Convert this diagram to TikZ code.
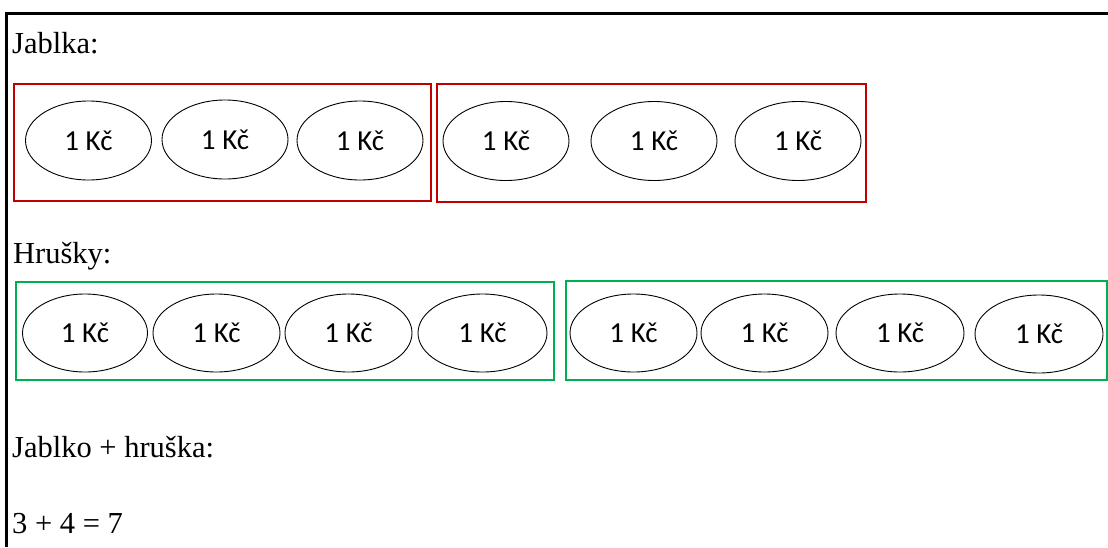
\documentclass[tikz,border=0pt]{standalone}
\usepackage{fontspec}
\setmainfont{Liberation Serif}
\newfontfamily\calib{Carlito}
\usetikzlibrary{shapes.geometric}
\definecolor{boxred}{HTML}{C00000}
\definecolor{boxgreen}{HTML}{00B050}
\begin{document}
\begin{tikzpicture}[x=1pt,y=-1pt,
 coin/.style={ellipse,draw=black,line width=0.9pt,inner sep=0,minimum width=126pt,minimum height=79pt,font=\calib\fontsize{29}{34}\selectfont},
 grp/.style={rectangle,line width=2.5pt,inner sep=0},
 redgrp/.style={grp,draw=boxred},
 greengrp/.style={grp,draw=boxgreen},
 lbl/.style={anchor=base west,inner sep=0,font=\fontsize{30.5}{36}\selectfont}]
\useasboundingbox (0,0) rectangle (1108,547);
\fill[white] (0,0) rectangle (1108,547);
% frame
\draw[line width=3pt] (6.5,547) -- (6.5,13) -- (1108,13);
% labels
\node[lbl] (t1) at (12,53) {Jablka:};
\node[lbl] (t2) at (13,263) {Hrušky:};
\node[lbl] (t3) at (12,457) {Jablko + hruška:};
\node[lbl] (t4) at (12,533) {3 + 4 = 7};
% red groups
\node[redgrp,minimum width=417pt,minimum height=117pt] (r1) at (222.5,142.5) {};
\node[redgrp,minimum width=429pt,minimum height=118pt] (r2) at (651.5,143) {};
% green groups
\node[greengrp,minimum width=538pt,minimum height=98pt] (g1) at (285,331) {};
\node[greengrp,minimum width=541pt,minimum height=99pt] (g2) at (836.5,330.5) {};
% apples
\node[coin] (a1) at (88.5,140.5) {1 Kč};
\node[coin] (a2) at (225,139.5) {1 Kč};
\node[coin] (a3) at (360,140.5) {1 Kč};
\node[coin] (a4) at (506,141) {1 Kč};
\node[coin] (a5) at (654,141) {1 Kč};
\node[coin] (a6) at (798,141) {1 Kč};
% pears
\node[coin,minimum width=125pt,minimum height=78pt] (p1) at (85,333) {1 Kč};
\node[coin,minimum width=127pt,minimum height=78pt] (p2) at (216.5,333) {1 Kč};
\node[coin,minimum width=127pt,minimum height=78pt] (p3) at (348.5,333) {1 Kč};
\node[coin,minimum width=129pt,minimum height=78pt] (p4) at (482.5,333) {1 Kč};
\node[coin,minimum width=127pt,minimum height=78pt] (p5) at (633.5,333) {1 Kč};
\node[coin,minimum width=127pt,minimum height=78pt] (p6) at (764.5,333) {1 Kč};
\node[coin,minimum width=128pt,minimum height=78pt] (p7) at (900,333) {1 Kč};
\node[coin,minimum width=128pt,minimum height=78pt] (p8) at (1039,334) {1 Kč};
\end{tikzpicture}
\end{document}
